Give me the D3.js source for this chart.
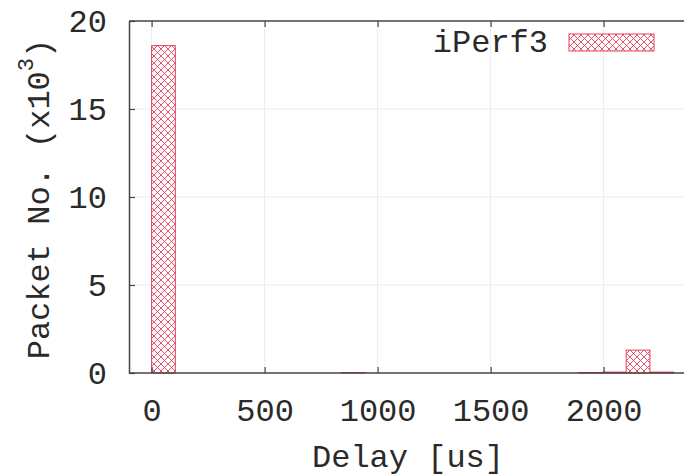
<!DOCTYPE html>
<html>
<head>
<meta charset="utf-8">
<script src="https://cdn.jsdelivr.net/npm/d3@7"></script>
<style>
  html, body { margin: 0; padding: 0; background: #fff; }
  svg text { font-family: "Liberation Mono", "Courier New", monospace; fill: #2a2a2a; }
</style>
</head>
<body>
<div id="chart"></div>
<script>
// ---------- Data (histogram bins, width 105 us, counts x10^3) ----------
const binStarts = [0, 840, 1890, 1995, 2100, 2205];
const binCounts = [18.6, 0.02, 0.03, 0.05, 1.3, 0.05];
const binWidth = 105;
const xTicks = [0, 500, 1000, 1500, 2000];
const yTicks = [0, 5, 10, 15, 20];
const seriesName = "iPerf3";

const W = 684, H = 475;
const red = "#e5405a";
const fontSize = 32;

const svg = d3.select("#chart").append("svg")
  .attr("width", W).attr("height", H);

// hatch pattern (crossed diagonals)
const defs = svg.append("defs");
const pat = defs.append("pattern")
  .attr("id", "hatch")
  .attr("patternUnits", "userSpaceOnUse")
  .attr("width", 7).attr("height", 7);
pat.append("rect").attr("width", 7).attr("height", 7).attr("fill", "#fff");
pat.append("path")
  .attr("d", "M0,0 L7,7 M7,0 L0,7 M-1,6 L1,8 M6,-1 L8,1 M-1,1 L1,-1 M6,8 L8,6")
  .attr("stroke", red).attr("stroke-width", 0.9);

// scales
const x = d3.scaleLinear().domain([-100, 2400]).range([129, 694]);
const y = d3.scaleLinear().domain([0, 20]).range([373, 21]);

// grid
svg.append("g").selectAll("line")
  .data(xTicks)
  .join("line")
  .attr("x1", d => x(d)).attr("x2", d => x(d))
  .attr("y1", y(20)).attr("y2", y(0))
  .attr("stroke", "#ececec").attr("stroke-width", 1);

svg.append("g").selectAll("line")
  .data(yTicks.filter(d => d > 0 && d < 20))
  .join("line")
  .attr("x1", x(-100)).attr("x2", W)
  .attr("y1", d => y(d)).attr("y2", d => y(d))
  .attr("stroke", "#ececec").attr("stroke-width", 1);

// bars
svg.append("g").selectAll("rect")
  .data(binStarts.map((s, i) => ({ s, v: binCounts[i] })))
  .join("rect")
  .attr("x", d => x(d.s))
  .attr("width", d => x(d.s + binWidth) - x(d.s))
  .attr("y", d => y(d.v))
  .attr("height", d => y(0) - y(d.v))
  .attr("fill", "url(#hatch)")
  .attr("stroke", red).attr("stroke-width", 1);

// axes (gnuplot style: inward ticks, mirrored on top)
const axisColor = "#444";
const fmt = d3.format("d");
const bottomAxis = svg.append("g")
  .attr("transform", `translate(0,${y(0)})`)
  .call(d3.axisBottom(x).tickValues(xTicks).tickFormat(fmt).tickSizeInner(-6).tickSizeOuter(0));
const topAxis = svg.append("g")
  .attr("transform", `translate(0,${y(20)})`)
  .call(d3.axisTop(x).tickValues(xTicks).tickSizeInner(-6).tickSizeOuter(0).tickFormat(""));
const leftAxis = svg.append("g")
  .attr("transform", `translate(${x(-100)},0)`)
  .call(d3.axisLeft(y).tickValues(yTicks).tickFormat(fmt).tickSizeInner(-6).tickSizeOuter(0));

[bottomAxis, topAxis, leftAxis].forEach(g => {
  g.select(".domain").attr("stroke", axisColor).attr("stroke-width", 1.5);
  g.selectAll(".tick line").attr("stroke", axisColor).attr("stroke-width", 1.2);
  g.selectAll(".tick text")
    .attr("font-family", "Liberation Mono, Courier New, monospace")
    .attr("font-size", fontSize).attr("fill", "#2a2a2a");
});
// extend the top/bottom axis lines to the window edge
bottomAxis.select(".domain").attr("d", `M${x(-100)},0H${W}`);
topAxis.select(".domain").attr("d", `M${x(-100)},0H${W}`);
bottomAxis.selectAll(".tick text").attr("dy", null).attr("dominant-baseline", "central").attr("y", 39);
leftAxis.selectAll(".tick text").attr("x", -22);

// axis titles
svg.append("text")
  .attr("x", 408).attr("y", 458)
  .attr("text-anchor", "middle").attr("dominant-baseline", "central")
  .attr("font-size", fontSize)
  .text("Delay [us]");

const yl = svg.append("text")
  .attr("transform", "translate(40,199) rotate(-90)")
  .attr("text-anchor", "middle").attr("dominant-baseline", "central")
  .attr("font-size", fontSize);
yl.append("tspan").text("Packet No. (x10");
yl.append("tspan").attr("font-size", 22).attr("dy", -13).text("3");
yl.append("tspan").attr("dy", 13).text(")");

// legend
svg.append("text")
  .attr("x", 548).attr("y", 43)
  .attr("text-anchor", "end").attr("dominant-baseline", "central")
  .attr("font-size", fontSize)
  .text(seriesName);
svg.append("rect")
  .attr("x", 569).attr("y", 34).attr("width", 85).attr("height", 17)
  .attr("fill", "url(#hatch)").attr("stroke", red).attr("stroke-width", 1);
</script>
</body>
</html>
